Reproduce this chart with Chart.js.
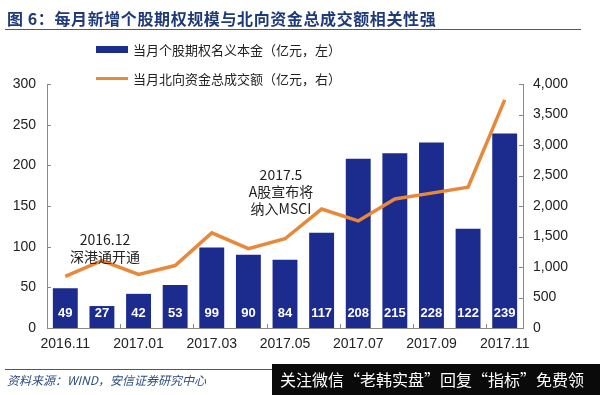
<!DOCTYPE html>
<html>
<head>
<meta charset="utf-8">
<script src="https://cdn.jsdelivr.net/npm/chart.js@4/dist/chart.umd.min.js"></script>
<style>
  body { margin: 0; background: #fff; }
  #wrap { position: relative; width: 600px; height: 395px; overflow: hidden; font-family: "Liberation Sans", Arial, "Noto Sans CJK SC", sans-serif; }
  #myChart { position: absolute; left: 0; top: 0; }
  .txt { position: absolute; white-space: nowrap; color: #222; }
  #title { left: 7px; top: 6px; font-size: 16px; font-weight: bold; color: #1f3a78; letter-spacing: 0.6px; font-family: "Noto Sans CJK SC", sans-serif; }
  #titleLine { position: absolute; left: 5px; top: 29px; width: 576px; height: 1px; background: #4a5a7a; }
  .legSw { position: absolute; left: 96px; width: 32px; }
  .legTx { position: absolute; left: 133px; font-size: 13px; font-family: "Noto Sans CJK SC", sans-serif; color: #222; }
  .note { font-size: 14px; text-align: center; transform: translateX(-50%); font-family: "Noto Sans CJK SC", sans-serif; line-height: 17px; }
  #srcLine { position: absolute; left: 5px; top: 369px; width: 300px; height: 1px; background: #3a5a8a; }
  #src { left: 7px; top: 371px; font-size: 12px; font-style: italic; color: #2d4d80; font-family: "Noto Sans CJK SC", sans-serif; }
  #wm { position: absolute; left: 272px; top: 364px; width: 328px; height: 31px; background: #0a0a0a; color: #fff; font-size: 16px; line-height: 31px; padding-left: 8px; box-sizing: border-box; font-family: "Noto Sans CJK SC", sans-serif; white-space: nowrap; }
</style>
</head>
<body>
<div id="wrap">
  <canvas id="myChart" width="600" height="395"></canvas>
  <div class="txt" id="title">图 6：每月新增个股期权规模与北向资金总成交额相关性强</div>
  <div id="titleLine"></div>
  <div class="legSw" style="top:46px;height:7px;background:#1c2b8e"></div>
  <div class="legTx" style="top:40px">当月个股期权名义本金（亿元，左）</div>
  <div class="legSw" style="top:77px;height:3px;background:#e8883a"></div>
  <div class="legTx" style="top:69px">当月北向资金总成交额（亿元，右）</div>
  <div class="txt note" style="left:105px;top:231px">2016.12<br>深港通开通</div>
  <div class="txt note" style="left:281px;top:166px">2017.5<br>A股宣布将<br>纳入MSCI</div>
  <div id="srcLine"></div>
  <div class="txt" id="src">资料来源：WIND，安信证券研究中心</div>
  <div id="wm">关注微信“老韩实盘”回复“指标”免费领</div>
</div>
<script>
var months = ['2016.11','2016.12','2017.01','2017.02','2017.03','2017.04','2017.05','2017.06','2017.07','2017.08','2017.09','2017.10','2017.11']
var optionNotional = [49, 27, 42, 53, 99, 90, 84, 117, 208, 215, 228, 122, 239]
var northboundTurnover = [846, 1105, 878, 1024, 1560, 1300, 1463, 1950, 1756, 2114, 2211, 2309, 3740]

var barColor = '#1c2b8e'
var lineColor = '#e8883a'
var axisColor = '#8a8a8a'

// white value labels at the foot of each bar
var barLabels = {
    id: 'barLabels',
    afterDatasetsDraw: function (chart) {
        var ctx = chart.ctx
        var meta = chart.getDatasetMeta(1)
        var y0 = chart.scales.y.getPixelForValue(0)
        ctx.save()
        ctx.fillStyle = '#fff'
        ctx.font = 'bold 13px "Liberation Sans", Arial, sans-serif'
        ctx.textAlign = 'center'
        ctx.textBaseline = 'middle'
        meta.data.forEach(function (bar, i) {
            ctx.fillText(optionNotional[i], bar.x, y0 - 15)
        })
        ctx.restore()
    }
}

// small tick marks pointing into the plot
var innerTicks = {
    id: 'innerTicks',
    afterDraw: function (chart) {
        var ctx = chart.ctx
        var a = chart.chartArea
        var yl = chart.scales.y, yr = chart.scales.y1
        ctx.save()
        ctx.strokeStyle = axisColor
        ctx.lineWidth = 1
        ctx.beginPath()
        yl.ticks.forEach(function (t) {
            var p = Math.round(yl.getPixelForValue(t.value)) + 0.5
            ctx.moveTo(a.left, p); ctx.lineTo(a.left + 4, p)
        })
        yr.ticks.forEach(function (t) {
            var p = Math.round(yr.getPixelForValue(t.value)) + 0.5
            ctx.moveTo(a.right, p); ctx.lineTo(a.right - 4, p)
        })
        var step = (a.right - a.left) / months.length
        for (var i = 0; i <= months.length; i += 2) {
            var px = Math.round(a.left + i * step) + 0.5
            ctx.moveTo(px, a.bottom); ctx.lineTo(px, a.bottom - 4)
        }
        ctx.stroke()
        ctx.restore()
    }
}

var tickFont = { family: '"Liberation Sans", Arial, sans-serif', size: 14 }

var ctx = document.getElementById('myChart').getContext('2d')
var Chart1 = new Chart(ctx, {
    type: 'bar',
    plugins: [barLabels, innerTicks],
    data: {
        labels: months,
        datasets: [{
            type: 'line',
            label: '当月北向资金总成交额（亿元，右）',
            data: northboundTurnover,
            yAxisID: 'y1',
            borderColor: lineColor,
            backgroundColor: lineColor,
            borderWidth: 3.5,
            pointRadius: 0,
            tension: 0,
            order: 0
        }, {
            type: 'bar',
            label: '当月个股期权名义本金（亿元，左）',
            data: optionNotional,
            yAxisID: 'y',
            backgroundColor: barColor,
            barPercentage: 0.68,
            categoryPercentage: 1,
            order: 1
        }]
    },
    options: {
        responsive: false,
        animation: false,
        layout: { padding: { top: 84, left: 0, right: 0, bottom: 0 } },
        plugins: {
            legend: { display: false },
            tooltip: { enabled: false }
        },
        scales: {
            x: {
                grid: { display: false, drawTicks: false },
                border: { display: true, color: axisColor },
                ticks: {
                    color: '#222',
                    font: { family: tickFont.family, size: 14 },
                    padding: 8,
                    autoSkip: false,
                    maxRotation: 0,
                    callback: function (v, i) { return i % 2 === 0 ? months[i] : '' }
                },
                afterFit: function (s) { s.height = 67 }
            },
            y: {
                position: 'left',
                min: 0, max: 300,
                grid: { display: false, drawTicks: false },
                border: { display: true, color: axisColor },
                ticks: { stepSize: 50, color: '#222', font: tickFont, padding: 11 },
                afterFit: function (s) { s.width = 47 }
            },
            y1: {
                position: 'right',
                min: 0, max: 4000,
                grid: { display: false, drawTicks: false },
                border: { display: true, color: axisColor },
                ticks: {
                    stepSize: 500, color: '#222', font: tickFont, padding: 10,
                    callback: function (v) { return v.toLocaleString('en-US') }
                },
                afterFit: function (s) { s.width = 77 }
            }
        }
    }
})
</script>
</body>
</html>
